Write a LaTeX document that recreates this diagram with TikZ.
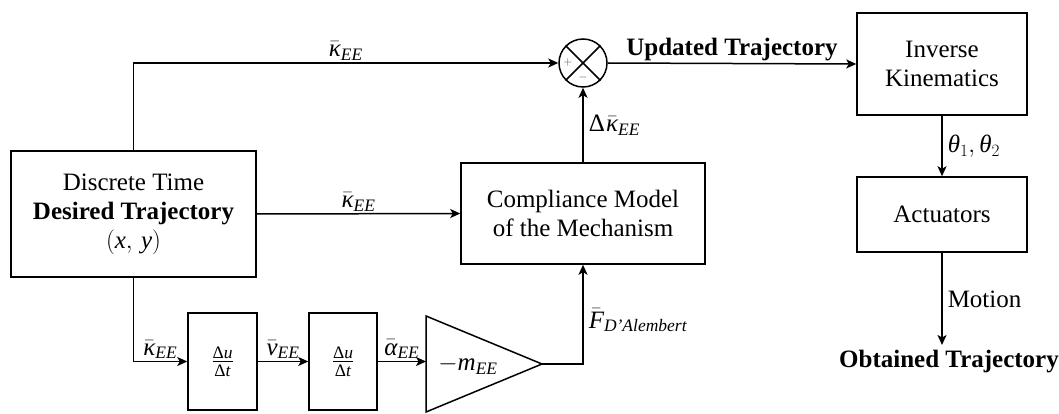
\documentclass[tikz,border=0pt]{standalone}
\usepackage{amsmath}
\usepackage{fontspec}
\setmainfont{Liberation Serif}
\usetikzlibrary{arrows.meta}
\newcommand{\tv}[1]{\text{\itshape #1}}
\newcommand{\tu}[1]{\text{#1}}
\begin{document}
\begin{tikzpicture}[x=1pt,y=-1pt,
  font=\fontsize{25}{29}\selectfont,
  line width=1.5pt,
  >={Stealth[length=10pt,width=9pt,inset=2.5pt]},
  box/.style={draw, align=center, inner sep=0pt},
  lbl/.style={inner sep=2pt}]
\useasboundingbox (0,0) rectangle (1059,414);
% blocks
\node[box, minimum width=245pt, minimum height=126pt] (dt) at (133.5,214) {Discrete Time\\\textbf{Desired Trajectory}\\$(\tv{x},\,\tv{y})$};
\node[box, minimum width=244pt, minimum height=101pt] (cm) at (583,213.5) {Compliance Model\\of the Mechanism};
\node[draw, circle, minimum size=48pt, inner sep=0pt] (sum) at (583,63) {};
\draw (sum.north west) -- (sum.south east) (sum.north east) -- (sum.south west);
\node[font=\fontsize{13}{13}\selectfont, inner sep=0pt, text=black!70] (plus) at (568,63) {$+$};
\node[font=\fontsize{13}{13}\selectfont, inner sep=0pt, text=black!70] (minus) at (583,78) {$-$};
\node[box, minimum width=170pt, minimum height=102pt] (ik) at (942,64) {Inverse\\Kinematics};
\node[box, minimum width=170pt, minimum height=75pt] (act) at (942,214.5) {Actuators};
\node[anchor=north, inner sep=2pt] (ot) at (949,347) {\textbf{Obtained Trajectory}};
\coordinate (otin) at (942,345);
\node[box, minimum width=69pt, minimum height=97pt] (d1) at (222.5,361.5) {$\frac{\tu{Δ}\tv{u}}{\tu{Δ}\tv{t}}$};
\node[box, minimum width=68pt, minimum height=97pt] (d2) at (343,361.5) {$\frac{\tu{Δ}\tv{u}}{\tu{Δ}\tv{t}}$};
\draw (426,316) -- (426,412) -- (542,364) -- cycle;
\coordinate (triin) at (426,361.5);
\coordinate (triout) at (542,364);
\node (gain) at (468,365) {$-\tv{m}_{\tv{EE}}$};
% connectors
\draw[->] (dt.north) |- (sum.west) node[pos=0.75, above, lbl] {$\bar{\tv{κ}}_{\tv{EE}}$};
\draw[->] (dt.east) -- (cm.west) node[midway, above, lbl] {$\bar{\tv{κ}}_{\tv{EE}}$};
\draw[->] (cm.north) -- (sum.south) node[midway, right, lbl, xshift=3pt] {$\tu{Δ}\mkern1mu\bar{\tv{κ}}_{\tv{EE}}$};
\draw[->] (sum.east) -- (ik.west) node[midway, above, lbl] {\textbf{Updated Trajectory}};
\draw[->] (ik.south) -- (act.north) node[midway, right, lbl, xshift=3pt] {$\tv{θ}_1, \tv{θ}_2$};
\draw[->] (act.south) -- (otin) node[midway, right, lbl, xshift=3pt] {Motion};
\draw[->] (dt.south) |- (d1.west) node[pos=0.75, above, lbl] {$\bar{\tv{κ}}_{\tv{EE}}$};
\draw[->] (d1.east) -- (d2.west) node[midway, above, lbl] {$\bar{\tv{v}}_{\tv{EE}}$};
\draw[->] (d2.east) -- (triin) node[midway, above, lbl] {$\bar{\tv{α}}_{\tv{EE}}$};
\draw[->] (triout) -| (cm.south) node[pos=0.72, right, lbl, xshift=3pt] {$\bar{\tv{F}}_{\tv{D’Alembert}}$};
\end{tikzpicture}
\end{document}
